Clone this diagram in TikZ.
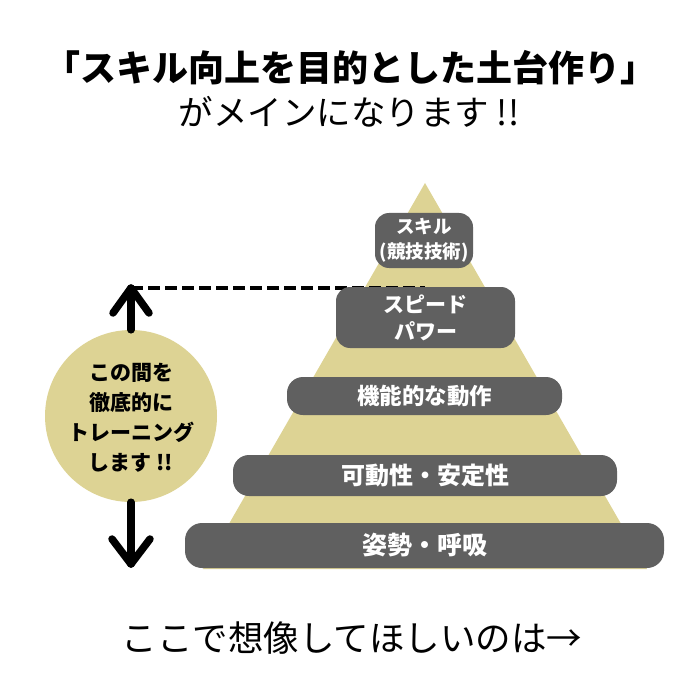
\documentclass[tikz,border=0pt]{standalone}
\usepackage{fontspec}
\setmainfont{Noto Sans CJK JP}
\definecolor{tanc}{RGB}{221,211,148}
\definecolor{boxg}{RGB}{96,96,96}
\tikzset{
  tier/.style={fill=boxg, rounded corners=14pt, inner sep=0pt, text=white, font=\bfseries\fontsize{20}{25}\selectfont, align=center},
  bigarrow/.style={line width=7.5pt, line cap=round, line join=round, black},
  dashline/.style={line width=4pt, dash pattern=on 12pt off 5pt, black},
}
\begin{document}
\begin{tikzpicture}[x=1pt,y=-1pt]
\path[use as bounding box] (0,0) rectangle (700,700);
% title
\node[font=\bfseries\fontsize{36}{40}\selectfont] (title) at (350,68) {「スキル向上を目的とした土台作り」};
\node[font=\fontsize{34.5}{38}\selectfont] (subtitle) at (349,112) {がメインになります !!};
% pyramid
\coordinate (apex) at (425,183);
\coordinate (bright) at (647,569);
\coordinate (bleft) at (203,569);
\fill[tanc] (apex) -- (bright) -- (bleft) -- cycle;
% dashed line and arrows
\coordinate (uptip) at (131,288);
\coordinate (dashend) at (425,288);
\coordinate (downtip) at (131,564);
\draw[dashline] (uptip) -- (dashend);
% tiers
\node[tier, minimum width=98pt, minimum height=55pt, font=\bfseries\fontsize{18.5}{25}\selectfont] (skill) at (424,240.5) {スキル\\(競技技術)};
\node[tier, minimum width=179pt, minimum height=61pt, font=\bfseries\fontsize{21}{27}\selectfont] (speed) at (425.5,317.5) {スピード\\パワー};
\node[tier, minimum width=275pt, minimum height=38pt, rounded corners=16pt, font=\bfseries\fontsize{22.5}{26}\selectfont] (func) at (424.5,396) {機能的な動作};
\node[tier, minimum width=384pt, minimum height=41pt, rounded corners=16pt, font=\bfseries\fontsize{24}{27}\selectfont] (mob) at (425,475.5) {可動性・安定性};
\node[tier, minimum width=479pt, minimum height=45pt, rounded corners=17pt, font=\bfseries\fontsize{25}{28}\selectfont] (post) at (424.5,545.5) {姿勢・呼吸};
% circle
\node[circle, fill=tanc, minimum size=172pt, inner sep=0pt] (circ) at (131,416) {};
\node[align=center, font=\bfseries\fontsize{21}{30}\selectfont] (circtext) at (131,418) {この間を\\徹底的に\\トレーニング\\します !!};
\draw[bigarrow] (circ.north) -- (uptip);
\draw[bigarrow] ([shift={(-18,25)}]uptip) -- (uptip) -- ([shift={(18,25)}]uptip);
\draw[bigarrow] (circ.south) -- (downtip);
\draw[bigarrow] ([shift={(-19,-25)}]downtip) -- (downtip) -- ([shift={(19,-25)}]downtip);
% bottom
\node[font=\fontsize{35.5}{40}\selectfont] (bottom) at (352,638) {ここで想像してほしいのは→};
\end{tikzpicture}
\end{document}
